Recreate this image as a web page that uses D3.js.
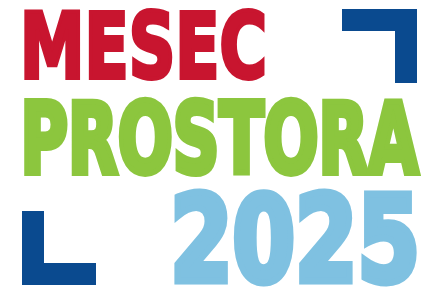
<!DOCTYPE html>
<html>
<head>
<meta charset="utf-8">
<script src="https://cdn.jsdelivr.net/npm/d3@7"></script>
<style>
  body { margin: 0; background: #fff; }
  svg { display: block; }
</style>
</head>
<body>
<div class="chart"></div>
<script>
var svgWidth = 421;
var svgHeight = 289;

// logo content
var words = ["MESEC", "PROSTORA", "2025"];
var wordColors = ["#c8152f", "#8cc63e", "#7fc1e1"];
var corners = ["top-right", "bottom-left"];
var cornerColor = "#0a4a8f";

// layout of each word: ink left, ink right, cap top, baseline, extra weight
var wordBoxes = [
    { x0: 22, x1: 265, y0: 10, y1: 80, sw: 4 },
    { x0: 22, x1: 417, y0: 98, y1: 176, sw: 6 },
    { x0: 172, x1: 418, y0: 190, y1: 284, sw: 7 }
];
var capRatio = 0.729;
var bearing = 0.045; // side bearing of the font, in em

var cornerBoxes = {
    "top-right": { x0: 342, x1: 417, y0: 9, y1: 83, t: 22 },
    "bottom-left": { x0: 22, x1: 96, y0: 211, y1: 285, t: 22 }
};

var svg = d3.select(".chart")
    .append("svg")
    .attr("width", svgWidth)
    .attr("height", svgHeight);

svg.append("rect")
    .attr("width", svgWidth)
    .attr("height", svgHeight)
    .attr("fill", "#fff");

function fontSize(i) {
    var b = wordBoxes[i];
    return (b.y1 - b.y0 - b.sw) / capRatio;
}

svg.selectAll("text.word")
    .data(words)
    .enter().append("text")
        .attr("class", "word")
        .attr("x", function(d, i) {
            var b = wordBoxes[i];
            return b.x0 + b.sw / 2 - fontSize(i) * bearing;
        })
        .attr("y", function(d, i) { return wordBoxes[i].y1 - wordBoxes[i].sw / 2; })
        .attr("font-family", "'DejaVu Sans Condensed', 'DejaVu Sans', sans-serif")
        .attr("font-stretch", "condensed")
        .attr("font-weight", "bold")
        .attr("font-size", function(d, i) { return fontSize(i); })
        .attr("textLength", function(d, i) {
            var b = wordBoxes[i];
            return b.x1 - b.x0 - b.sw + 2 * fontSize(i) * bearing;
        })
        .attr("lengthAdjust", "spacingAndGlyphs")
        .attr("fill", function(d, i) { return wordColors[i]; })
        .attr("stroke", function(d, i) { return wordColors[i]; })
        .attr("stroke-width", function(d, i) { return wordBoxes[i].sw; })
        .attr("stroke-linejoin", "miter")
        .text(function(d) { return d; });

function cornerPath(c) {
    var b = cornerBoxes[c];
    var p = d3.path();
    if (c === "top-right") {
        p.moveTo(b.x0, b.y0);
        p.lineTo(b.x1, b.y0);
        p.lineTo(b.x1, b.y1);
        p.lineTo(b.x1 - b.t, b.y1);
        p.lineTo(b.x1 - b.t, b.y0 + b.t);
        p.lineTo(b.x0, b.y0 + b.t);
    } else {
        p.moveTo(b.x0, b.y0);
        p.lineTo(b.x0 + b.t, b.y0);
        p.lineTo(b.x0 + b.t, b.y1 - b.t);
        p.lineTo(b.x1, b.y1 - b.t);
        p.lineTo(b.x1, b.y1);
        p.lineTo(b.x0, b.y1);
    }
    p.closePath();
    return p.toString();
}

svg.selectAll("path.corner")
    .data(corners)
    .enter().append("path")
        .attr("class", "corner")
        .attr("d", cornerPath)
        .attr("fill", cornerColor);
</script>
</body>
</html>
